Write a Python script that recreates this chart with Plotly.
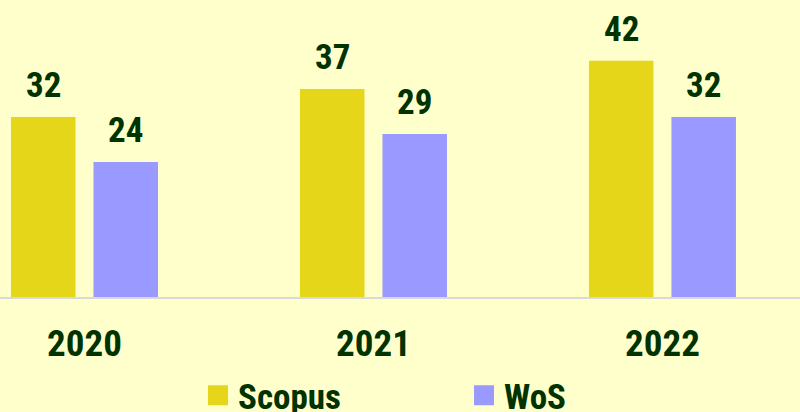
import plotly.graph_objects as go

years = ["2020", "2021", "2022"]
series_names = ["Scopus", "WoS"]
scopus = [32, 37, 42]
wos = [24, 29, 32]
series_values = [scopus, wos]
series_colors = ["#E6D619", "#9999FF"]

FONT = "Liberation Sans Narrow, Arial Narrow, Roboto Condensed, Liberation Sans, Arial, sans-serif"
TXT = "#003300"
BG = "#FFFFCC"

WIDTH, HEIGHT = 800, 412
X_RANGE = [-0.2924, 2.476]
BARGAP = 0.429

fig = go.Figure()

for name, vals, col in zip(series_names, series_values, series_colors):
    fig.add_trace(go.Bar(
        x=years, y=vals, name=name, marker_color=col,
        showlegend=False, hoverinfo="skip",
    ))

# legend entries (larger square swatches)
for name, col in zip(series_names, series_colors):
    fig.add_trace(go.Scatter(
        x=[None], y=[None], mode="markers", name=name,
        marker=dict(symbol="square", size=16, color=col, line=dict(width=4, color=col)),
        hoverinfo="skip",
    ))

# value labels, placed over each bar of the group
px_per_unit = WIDTH / (X_RANGE[1] - X_RANGE[0])
slot_px = (1 - BARGAP) / len(series_names) * px_per_unit
for k, vals in enumerate(series_values):
    shift = (k - (len(series_names) - 1) / 2) * slot_px
    for j, v in enumerate(vals):
        fig.add_annotation(
            x=j, y=v, text=str(v), showarrow=False,
            xanchor="center", yanchor="bottom", xshift=shift, yshift=9,
            font=dict(family=FONT, size=35, color=TXT, weight="bold"),
        )

fig.update_layout(
    width=WIDTH, height=HEIGHT,
    margin=dict(l=0, r=0, t=0, b=115, autoexpand=False),
    paper_bgcolor=BG, plot_bgcolor=BG,
    template="none",
    barmode="group", bargap=BARGAP, bargroupgap=0.218,
    xaxis=dict(
        type="category", range=X_RANGE,
        showline=True, linecolor="#D9D9D9", linewidth=2,
        showgrid=False, zeroline=False, ticks="",
        tickfont=dict(family=FONT, size=37, color=TXT, weight="bold"),
        ticklabelstandoff=13,
    ),
    yaxis=dict(range=[0, 52.8], visible=False, showgrid=False, zeroline=False),
    showlegend=True,
    legend=dict(
        orientation="h", x=0.2475, xanchor="left", y=-0.3316, yanchor="middle",
        entrywidth=221, entrywidthmode="pixels",
        bgcolor="rgba(0,0,0,0)",
        font=dict(family=FONT, size=35, color=TXT, weight="bold"),
    ),
)

fig.write_html("out.html", config={"displayModeBar": False},
               post_script="document.body.style.margin='0';")
